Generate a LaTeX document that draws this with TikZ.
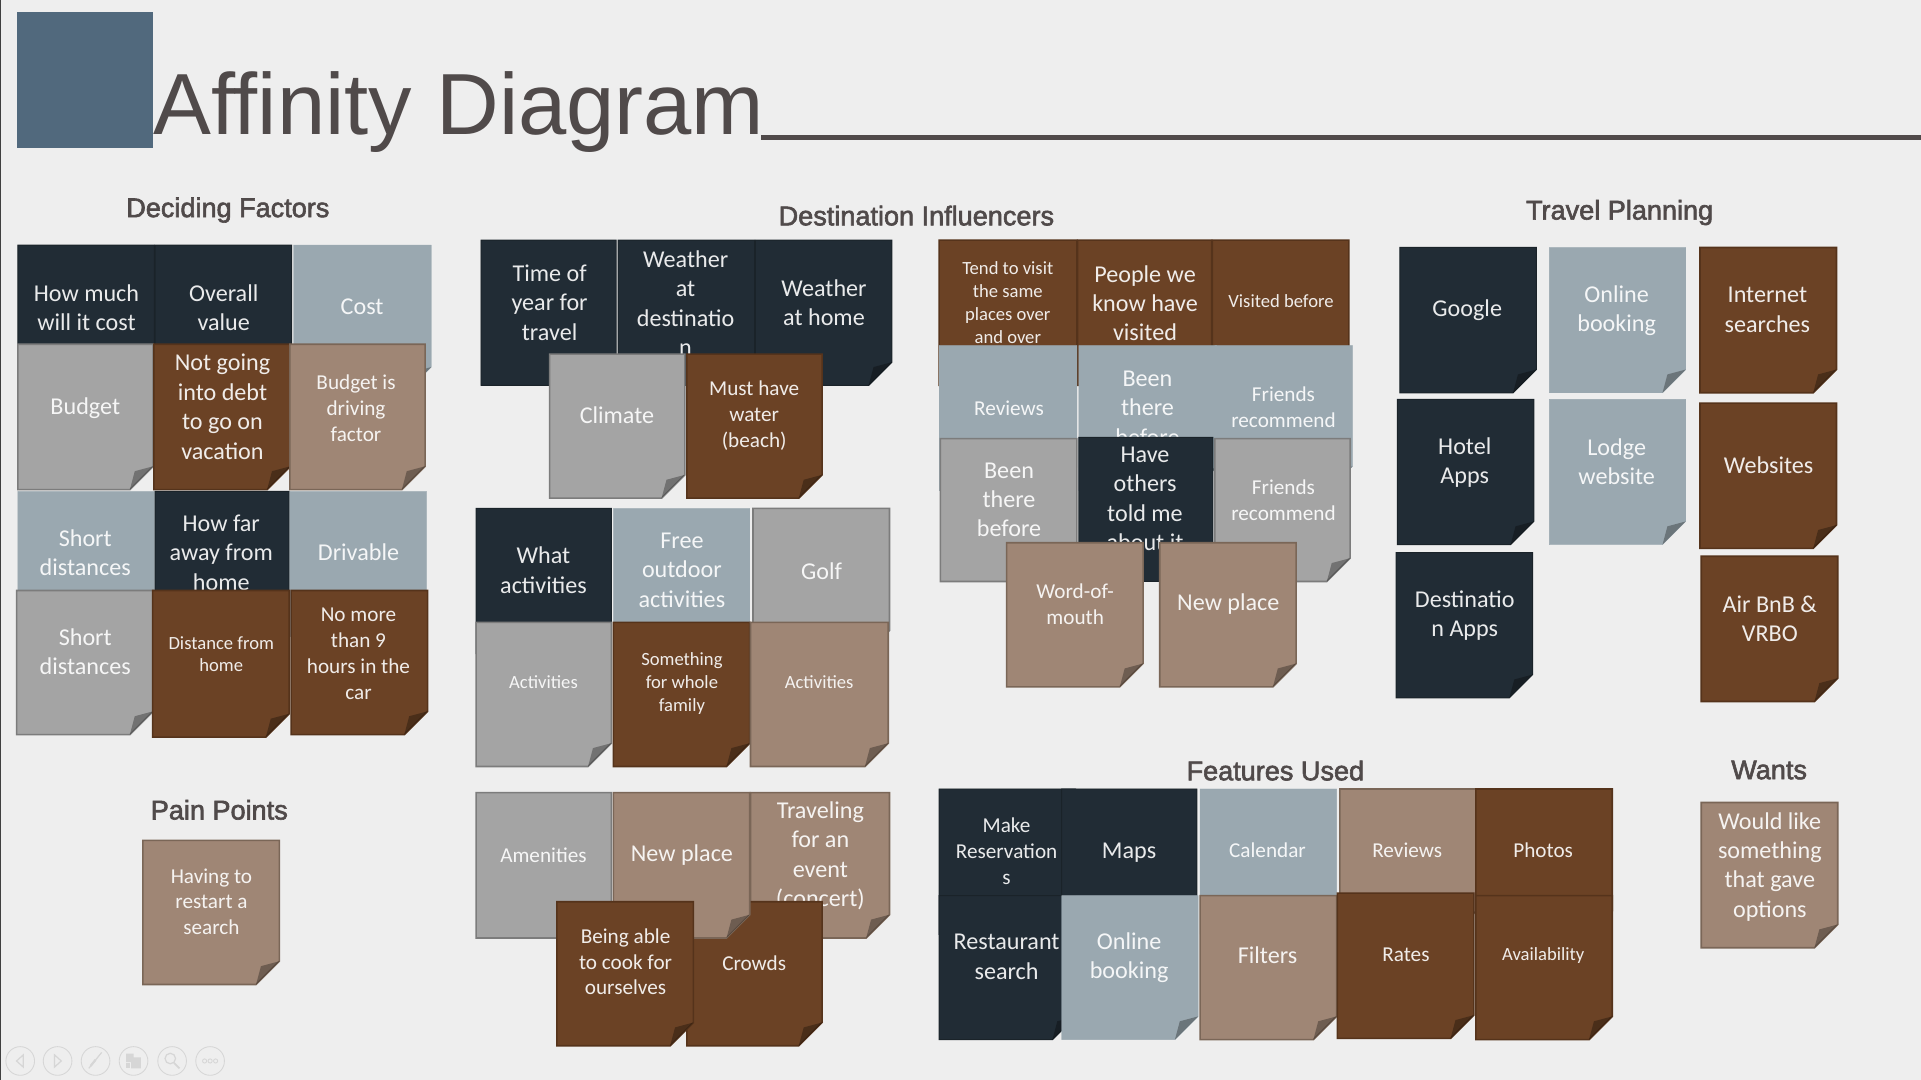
\documentclass[tikz,border=0pt]{standalone}
\usepackage{fontspec}
\setmainfont{Carlito}
\newfontfamily\titlefont{Liberation Sans}
\newfontfamily\headfont[FakeBold=2.2]{Liberation Sans}
\definecolor{pagebg}{HTML}{EEEEEE}
\definecolor{cdark}{HTML}{212C35}
\definecolor{cdarkb}{HTML}{1A2329}
\definecolor{cblue}{HTML}{9AA8B0}
\definecolor{cgrey}{HTML}{A4A4A4}
\definecolor{cgreyb}{HTML}{7C7C7C}
\definecolor{cbrown}{HTML}{6B4225}
\definecolor{cbrownb}{HTML}{55331B}
\definecolor{ctaupe}{HTML}{9F8675}
\definecolor{ctaupeb}{HTML}{7A6657}
\definecolor{cslate}{HTML}{51697D}
\definecolor{ctitle}{HTML}{504A4A}
\definecolor{ctool}{HTML}{D6D6D6}
\tikzset{
  darknote/.style={fill=cdark,draw=cdarkb,line width=.8pt},
  bluenote/.style={fill=cblue,draw=cblue,line width=.3pt},
  greynote/.style={fill=cgrey,draw=cgreyb,line width=1.3pt},
  brownnote/.style={fill=cbrown,draw=cbrownb,line width=1.3pt},
  taupenote/.style={fill=ctaupe,draw=ctaupeb,line width=1.3pt},
  notefold/.style={fill=black,fill opacity=.3,draw=none},
  notetext/.style={align=center,inner sep=0pt,text=white,text opacity=.9},
  heading/.style={inner sep=0pt,text=ctitle,font=\headfont\fontsize{22.1pt}{27pt}\selectfont},
  toolring/.style={draw=ctool,line width=.7pt},
  toolicon/.style={draw=ctool,line width=1pt},
}
% name, x1,y1,x2,y2, style, size, tx,ty, text
\newcommand{\stickynote}[9]{%
  \draw[#6] (#2,#3) -- (#4-.6,#3) -- (#4-.6,#5-19.4) -- (#4-19.6,#5-.4) -- (#2,#5-.4) -- cycle;
  \fill[notefold] (#4-19.6,#5-.4) -- (#4-.6,#5-19.4) -- (#4-15.6,#5-15.4) -- cycle;
  \stickytext{#1}{#7}{#8}{#9}%
}
\newcommand{\stickytext}[4]{\stickyplace{#1}{#2}{#3}{#4}}
\newcommand{\stickyplace}[4]{\def\stname{#1}\def\stsize{#2}\def\stx{#3}\def\sty{#4}\stickyfinish}
\newcommand{\stickyfinish}[1]{%
  \node[notetext,font=\fontsize{\stsize pt}{\dimexpr\stsize pt*122/100\relax}\selectfont] (\stname) at (\stx,\sty) {#1};}
\begin{document}
\begin{tikzpicture}[x=1pt,y=-1pt]
\useasboundingbox (0,0) rectangle (1568,881.5);
\fill[pagebg] (0,0) rectangle (1568,881.5);
\fill[black!75] (0,0) rectangle (.8,881.5);
% title
\fill[cslate] (14,10) rectangle (125,121);
\node[inner sep=0pt,anchor=base west,text=ctitle,font=\titlefont\fontsize{70.85pt}{80pt}\selectfont] (title) at (125,110) {Affinity Diagram};
\coordinate (ruleend) at (1568,112.2);
\draw[ctitle,line width=4pt] ([xshift=-3pt]title.base east |- ruleend) -- (ruleend);
% headings
\node[heading] (h1) at (186,171.5) {Deciding Factors};
\node[heading] (h2) at (748,176) {Destination Influencers};
\node[heading] (h3) at (1322,173.5) {Travel Planning};
\node[heading] (h4) at (179,661) {Pain Points};
\node[heading] (h5) at (1041,629) {Features Used};
\node[heading] (h6) at (1444,628.5) {Wants};
\begin{scope}[xshift=.6pt]
% Deciding factors
\stickynote{a1}{14}{200}{126}{319}{darknote}{19.7}{70}{251}{How much\\will it cost}
\stickynote{a2}{126}{200}{238}{319}{darknote}{19.7}{182}{251}{Overall\\value}
\stickynote{a3}{239}{200}{352}{319}{bluenote}{19.7}{295}{250}{Cost}
\stickynote{a4}{14}{281}{125}{400}{greynote}{19.7}{69}{333}{Budget}
\stickynote{a5}{125}{281}{237}{400}{brownnote}{19.7}{181}{332}{Not going\\into debt\\to go on\\vacation}
\stickynote{a6}{236}{281}{347}{400}{taupenote}{17.3}{290}{333}{Budget is\\driving\\factor}
\stickynote{a7}{14}{401}{126}{520}{bluenote}{19.7}{69}{451}{Short\\distances}
\stickynote{a8}{126}{401}{236}{520}{darknote}{19.7}{180}{451}{How far\\away from\\home}
\stickynote{a9}{236}{401}{348}{520}{bluenote}{19.7}{292}{451}{Drivable}
\stickynote{a10}{13}{482}{125}{600}{greynote}{19.7}{69}{532}{Short\\distances}
\stickynote{a11}{124}{482}{236}{602}{brownnote}{15.2}{180}{534}{Distance from\\home}
\stickynote{a12}{237}{482}{349}{600}{brownnote}{17.3}{292}{533.5}{No more\\than 9\\hours in the\\car}
% Pain points
\stickynote{p1}{116}{686}{228}{804}{taupenote}{17.3}{172}{736}{Having to\\restart a\\search}
% Destination influencers, left
\stickynote{b1}{392}{196}{503}{315}{darknote}{19.7}{448}{247}{Time of\\year for\\travel}
\stickynote{b2}{504}{196}{616}{315}{darknote}{19.7}{559}{247.5}{Weather\\at\\destinatio\\n}
\stickynote{b3}{616}{196}{728}{315}{darknote}{19.7}{672}{247}{Weather\\at home}
\stickynote{b4}{448}{289}{559}{407}{greynote}{19.7}{503}{339}{Climate}
\stickynote{b5}{560}{289}{671}{407}{brownnote}{17.3}{615}{339.5}{Must have\\water\\(beach)}
\stickynote{c1}{388}{415}{499}{534}{darknote}{19.7}{443}{465.5}{What\\activities}
\stickynote{c2}{500}{415}{612}{534}{bluenote}{19.7}{556}{465.5}{Free\\outdoor\\activities}
\stickynote{c3}{614}{415}{726}{534}{greynote}{19.7}{670}{466}{Golf}
\stickynote{c4}{388}{508}{499}{626}{greynote}{15.2}{443}{557}{Activities}
\stickynote{c5}{500}{508}{612}{626}{brownnote}{15.2}{556}{558}{Something\\for whole\\family}
\stickynote{c6}{612}{508}{725}{626}{taupenote}{15.2}{668}{557}{Activities}
\stickynote{d1}{388}{647}{499}{766}{greynote}{17.3}{443}{698}{Amenities}
\stickynote{d3}{612}{647}{726}{766}{taupenote}{19.7}{669}{698.5}{Traveling\\for an\\event\\(concert)}
\stickynote{d5}{560}{736}{671}{854}{brownnote}{17.3}{615}{786}{Crowds}
\stickynote{d2}{500}{647}{612}{766}{taupenote}{19.7}{556}{698}{New place}
\stickynote{d4}{454}{736}{566}{854}{brownnote}{17.3}{510}{785}{Being able\\to cook for\\ourselves}
% Destination influencers, right
\stickynote{e1}{766}{196}{879}{315}{brownnote}{15.2}{822}{247}{Tend to visit\\the same\\places over\\and over}
\stickynote{e2}{879}{196}{989}{315}{brownnote}{19.7}{934}{247.5}{People we\\know have\\visited}
\stickynote{e3}{989}{196}{1101}{315}{brownnote}{15.2}{1045}{246}{Visited before}
\stickynote{e4}{766}{282}{879}{401}{bluenote}{17.3}{823}{333}{Reviews}
\stickynote{e5}{880}{282}{993}{401}{bluenote}{19.7}{936}{333}{Been\\there\\before}
\stickynote{e6}{991}{282}{1104}{400}{bluenote}{17.3}{1047}{332.5}{Friends\\recommend}
\stickynote{e7}{767}{358}{879}{475}{greynote}{19.7}{823}{408}{Been\\there\\before}
\stickynote{e8}{880}{357}{990}{475}{darknote}{19.7}{934}{407}{Have\\others\\told me\\about it}
\stickynote{e9}{991}{358}{1102}{475}{greynote}{17.3}{1047}{408}{Friends\\recommend}
\stickynote{e10}{821}{443}{933}{561}{taupenote}{17.3}{877}{493.5}{Word-of-\\mouth}
\stickynote{e11}{946}{443}{1058}{561}{taupenote}{19.7}{1002}{493}{New place}
% Travel planning
\stickynote{t1}{1142}{202}{1254}{321}{darknote}{19.7}{1197}{253}{Google}
\stickynote{t2}{1264}{202}{1376}{321}{bluenote}{19.7}{1319}{253.5}{Online\\booking}
\stickynote{t3}{1387}{202}{1499}{321}{brownnote}{19.7}{1442}{253}{Internet\\searches}
\stickynote{t4}{1140}{326}{1252}{445}{darknote}{19.7}{1195}{377.5}{Hotel\\Apps}
\stickynote{t5}{1264}{326}{1376}{445}{bluenote}{19.7}{1319}{377}{Lodge\\website}
\stickynote{t6}{1387}{329}{1499}{448}{brownnote}{19.7}{1443}{380}{Websites}
\stickynote{t7}{1139}{451}{1251}{570}{darknote}{19.7}{1195}{502.5}{Destinatio\\n Apps}
\stickynote{t8}{1388}{454}{1500}{573}{brownnote}{19.7}{1444}{505}{Air BnB \&\\VRBO}
% Features used
\stickynote{f1}{766}{644}{878}{763}{darknote}{17.3}{821}{695}{Make\\Reservation\\s}
\stickynote{f2}{866}{644}{977}{763}{darknote}{19.7}{921}{696}{Maps}
\stickynote{f3}{979}{644}{1091}{763}{bluenote}{17.3}{1034}{694}{Calendar}
\stickynote{f4}{1093}{644}{1205}{763}{taupenote}{17.3}{1148}{694}{Reviews}
\stickynote{f5}{1204}{644}{1316}{763}{brownnote}{17.3}{1259}{694}{Photos}
\stickynote{f6}{766}{731}{878}{849}{darknote}{19.7}{821}{781}{Restaurant\\search}
\stickynote{f7}{866}{731}{978}{849}{bluenote}{19.7}{921}{781.5}{Online\\booking}
\stickynote{f8}{979}{731}{1091}{849}{taupenote}{19.7}{1034}{780}{Filters}
\stickynote{f9}{1091}{729}{1203}{848}{brownnote}{17.3}{1147}{779}{Rates}
\stickynote{f10}{1204}{731}{1316}{849}{brownnote}{15.2}{1259}{780}{Availability}
% Wants
\stickynote{w1}{1388}{655}{1500}{774}{taupenote}{19.7}{1444}{707.5}{Would like\\something\\that gave\\options}
\end{scope}
% slide-show toolbar
\foreach \cx in {16.5,47,78,109,140.5,171.5} \draw[toolring] (\cx,866) circle (11.7);
\draw[toolicon] (19,861) -- (13.5,866) -- (19,871) -- cycle;
\draw[toolicon] (44.5,861) -- (50,866) -- (44.5,871) -- cycle;
\draw[toolicon] (72.5,872) -- (83,859);
\draw[toolicon,line width=1.8pt] (74,870) -- (78,865);
\fill[ctool] (103,860) rectangle (109,867) (107,863) rectangle (115,872);
\fill[ctool] (103,868) rectangle (106,872);
\draw[toolicon] (139,864) circle (4.3);
\draw[toolicon,line width=1.5pt] (142,867.5) -- (146.5,872);
\foreach \dx in {-4.5,0,4.5} \draw[ctool,line width=.7pt] (171.5+\dx,866) circle (1.7);
\end{tikzpicture}
\end{document}
